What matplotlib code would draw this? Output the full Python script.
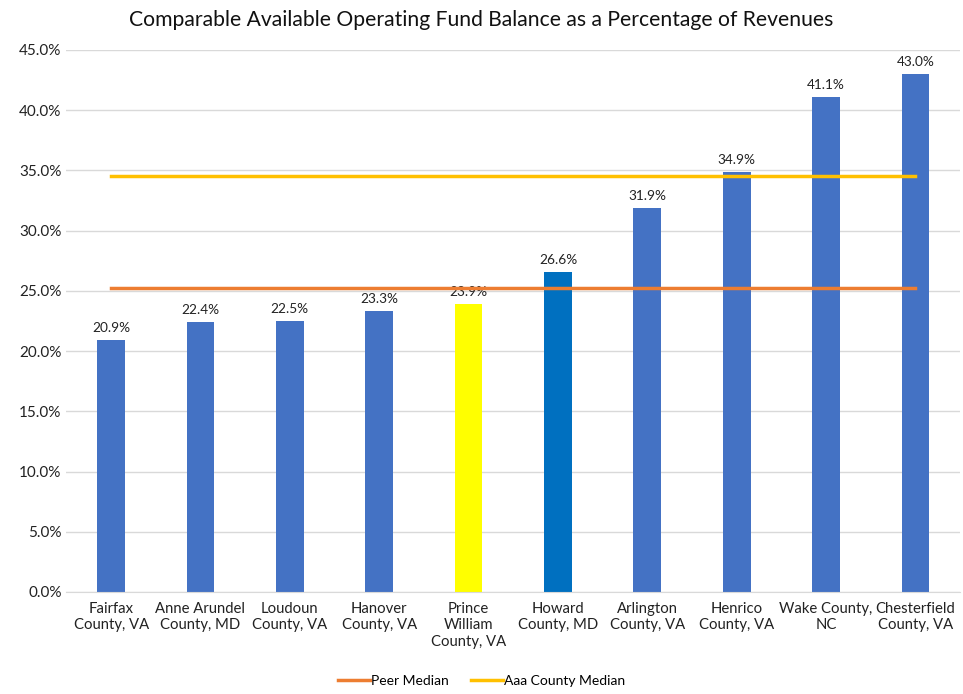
import matplotlib.pyplot as plt
from matplotlib.ticker import FuncFormatter

plt.rcParams['font.family'] = ['Lato', 'DejaVu Sans']

counties = ["Fairfax\nCounty, VA", "Anne Arundel\nCounty, MD", "Loudoun\nCounty, VA",
            "Hanover\nCounty, VA", "Prince\nWilliam\nCounty, VA", "Howard\nCounty, MD",
            "Arlington\nCounty, VA", "Henrico\nCounty, VA", "Wake County,\nNC",
            "Chesterfield\nCounty, VA"]
balance = [20.9, 22.4, 22.5, 23.3, 23.9, 26.6, 31.9, 34.9, 41.1, 43.0]
bar_colors = ["#4472C4"] * 4 + ["#FFFF00", "#0070C0"] + ["#4472C4"] * 4
peer_median = 25.25
aaa_median = 34.55

fig = plt.figure(figsize=(9.63, 6.94), dpi=100)
ax = fig.add_axes([0.069, 0.147, 0.928, 0.781])

x = list(range(len(counties)))
ax.bar(x, balance, width=0.31, color=bar_colors, zorder=2)

for xi, v in zip(x, balance):
    ax.text(xi, v + 0.5, f"{v:.1f}%", ha="center", va="bottom", fontsize=9.8, color="#222222")

ax.plot(x, [peer_median] * len(x), color="#ED7D31", lw=2.5, label="Peer Median", zorder=3)
ax.plot(x, [aaa_median] * len(x), color="#FFC000", lw=2.5, label="Aaa County Median", zorder=3)

ax.set_xlim(-0.5, 9.5)
ax.set_ylim(0, 45)
ax.set_yticks([i * 5 for i in range(10)])
ax.yaxis.set_major_formatter(FuncFormatter(lambda v, p: f"{v:.1f}%"))
ax.set_xticks(x)
ax.set_xticklabels(counties, fontsize=10.7, va="top", linespacing=1.25)
ax.tick_params(axis="y", length=0, labelsize=11, colors="#222222")
ax.tick_params(axis="x", length=0, colors="#222222", pad=7)
ax.grid(axis="y", color="#D9D9D9", lw=1, zorder=0)
for s in ["top", "right", "left"]:
    ax.spines[s].set_visible(False)
ax.spines["bottom"].set_color("#D9D9D9")

fig.suptitle("Comparable Available Operating Fund Balance as a Percentage of Revenues",
             y=0.985, fontsize=15.2, color="#111111")

fig.legend(loc="lower center", bbox_to_anchor=(0.5, -0.008), ncol=2, frameon=False,
           fontsize=10, handlelength=2.3, handletextpad=0.1, columnspacing=1.6)

fig.savefig("out.png", dpi=100)
